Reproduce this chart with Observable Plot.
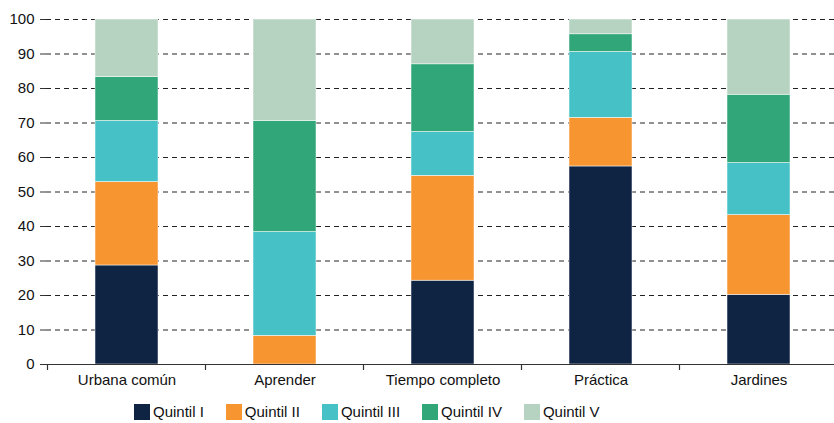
<!DOCTYPE html>
<html>
<head>
<meta charset="utf-8">
<script src="https://cdn.jsdelivr.net/npm/d3@7"></script>
<script src="https://cdn.jsdelivr.net/npm/@observablehq/plot@0.6"></script>
<style>
  body { margin: 0; background: #fff; font-family: "Liberation Sans", Arial, sans-serif; }
  #wrap { position: relative; width: 834px; height: 423px; }
  #legend { position: absolute; left: 134px; top: 403px; display: flex; align-items: center; font-size: 15px; color: #111; }
  #legend .item { display: flex; align-items: center; margin-right: 22px; }
  #legend .sw { width: 16px; height: 16px; margin-right: 3px; }
</style>
</head>
<body>
<div id="wrap"><div id="chart"></div><div id="legend"></div></div>
<script>
const categories = ["Urbana común", "Aprender", "Tiempo completo", "Práctica", "Jardines"];
const quintiles = ["Quintil I", "Quintil II", "Quintil III", "Quintil IV", "Quintil V"];
const colors = ["#0f2343", "#f79530", "#46c2c7", "#30a679", "#b5d3c0"];
const quintil1 = [28.7, 0, 24.3, 57.4, 20.2];
const quintil2 = [24.2, 8.3, 30.4, 14.1, 23.1];
const quintil3 = [17.7, 30.1, 12.7, 19.1, 15.1];
const quintil4 = [12.7, 32.2, 19.6, 5.1, 19.8];
const quintil5 = [16.7, 29.4, 13.0, 4.3, 21.8];
const yTicks = [0, 10, 20, 30, 40, 50, 60, 70, 80, 90, 100];

const series = [quintil1, quintil2, quintil3, quintil4, quintil5];
const data = [];
categories.forEach((c, i) => {
  quintiles.forEach((q, j) => data.push({cat: c, q, value: series[j][i]}));
});

const plot = Plot.plot({
  width: 834,
  height: 388,
  marginLeft: 46,
  marginRight: 0,
  marginTop: 19,
  marginBottom: 24,
  style: {fontFamily: "Liberation Sans, Arial, sans-serif", fontSize: "15px", color: "#111", background: "#fff"},
  x: {domain: categories, range: [46, 838.5], paddingInner: 0.6, paddingOuter: 0.3, label: null},
  y: {domain: [0, 100], label: null},
  color: {domain: quintiles, range: colors},
  marks: [
    Plot.gridY(yTicks.filter(d => d > 0), {stroke: "#222", strokeOpacity: 1, strokeDasharray: "5,4", strokeWidth: 1}),
    Plot.barY(data, {x: "cat", y: "value", fill: "q", order: quintiles, stroke: "white", strokeWidth: 0.5}),
    Plot.axisY({ticks: yTicks, tickSize: 6, tickPadding: 6, stroke: "#333", fontSize: 15}),
    Plot.axisX({tickSize: 0, tickPadding: 10, fontSize: 15}),
    Plot.ruleY([0], {stroke: "#333", strokeWidth: 1.2}),
    Plot.ruleX([0], {x: () => 46, stroke: "#333", strokeWidth: 1.2})
  ]
});
document.getElementById("chart").appendChild(plot);

// band boundary tick marks on the x axis
const xs = plot.scale("x");
const ys = plot.scale("y");
const y0 = ys.apply(0);
const svg = d3.select(plot);
const bounds = categories.map(c => xs.apply(c) + xs.bandwidth / 2 - xs.step / 2);
bounds.push(xs.apply(categories[categories.length - 1]) + xs.bandwidth / 2 + xs.step / 2);
svg.append("g").selectAll("line").data(bounds).join("line")
  .attr("x1", d => d).attr("x2", d => d)
  .attr("y1", y0).attr("y2", y0 + 6)
  .attr("stroke", "#333").attr("stroke-width", 1.2);

// legend
const leg = d3.select("#legend");
quintiles.forEach((q, i) => {
  const it = leg.append("div").attr("class", "item");
  it.append("div").attr("class", "sw").style("background", colors[i]);
  it.append("span").text(q);
});
</script>
</body>
</html>
